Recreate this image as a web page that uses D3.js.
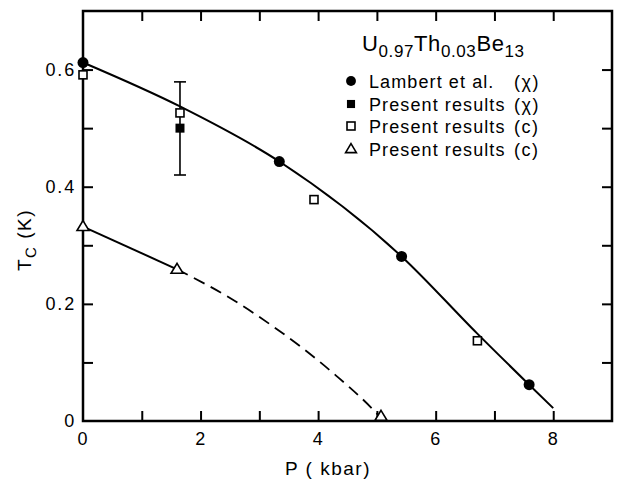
<!DOCTYPE html>
<html><head><meta charset="utf-8">
<script src="https://cdn.jsdelivr.net/npm/d3@7"></script>
<style>
html,body{margin:0;padding:0;background:#fff;}
svg{display:block;font-family:"Liberation Sans",Arial,sans-serif;}
svg text{fill:#000;}
</style>
</head><body>
<svg id="chart" width="617" height="481"></svg>
<script>
// ---- data ----
const lambertP = [0.0, 3.34, 5.42, 7.59];
const lambertTc = [0.612, 0.443, 0.281, 0.062];
const chiP = [1.65];
const chiTc = [0.50];
const chiErrLo = [0.42];
const chiErrHi = [0.579];
const cP = [0.0, 1.65, 3.93, 6.71];
const cTc = [0.591, 0.526, 0.378, 0.137];
const triP = [0.0, 1.6, 5.07];
const triTc = [0.332, 0.259, 0.008];
const fitP = [0.0, 1.65, 3.34, 5.42, 6.7, 7.59, 8.0];
const fitTc = [0.612, 0.537, 0.443, 0.281, 0.150, 0.062, 0.022];
const lowSolidP = [0.0, 1.6];
const lowSolidTc = [0.332, 0.259];
const lowDashP = [1.6, 2.55, 3.24, 3.69, 4.3, 4.93, 5.07];
const lowDashTc = [0.259, 0.207, 0.161, 0.128, 0.078, 0.02, 0.005];
const xTickLabels = [0, 2, 4, 6, 8];
const xTicks = [1, 2, 3, 4, 5, 6, 7, 8];
const yTickLabels = [0, 0.2, 0.4, 0.6];
const yTicks = [0.1, 0.2, 0.3, 0.4, 0.5, 0.6];
const legendLabels = ["Lambert et al.", "Present results", "Present results", "Present results"];
const legendTags = ["(χ)", "(χ)", "(c)", "(c)"];
const legendMarkers = ["circle", "fsquare", "osquare", "triangle"];

const svg = d3.select("#chart");
const L = 83, R = 612, T = 11, B = 421;
const x = d3.scaleLinear().domain([0, 9]).range([L, R]);
const y = d3.scaleLinear().domain([0, 0.7]).range([B, T]);

// ticks (inward)
const tk = 10;
const gB = svg.append("g").attr("transform", `translate(0,${B})`)
  .call(d3.axisBottom(x).tickValues(xTicks).tickSize(-tk).tickFormat(""));
const gT = svg.append("g").attr("transform", `translate(0,${T})`)
  .call(d3.axisTop(x).tickValues(xTicks).tickSize(-tk).tickFormat(""));
const gL = svg.append("g").attr("transform", `translate(${L},0)`)
  .call(d3.axisLeft(y).tickValues(yTicks).tickSize(-tk).tickFormat(""));
const gR = svg.append("g").attr("transform", `translate(${R},0)`)
  .call(d3.axisRight(y).tickValues(yTicks).tickSize(-tk).tickFormat(""));
[gB, gT, gL, gR].forEach(g => {
  g.select(".domain").remove();
  g.selectAll("line").attr("stroke", "#000").attr("stroke-width", 2);
});

// tick labels
const gBl = svg.append("g").attr("transform", `translate(0,${B})`)
  .call(d3.axisBottom(x).tickValues(xTickLabels).tickSize(0).tickPadding(11).tickFormat(d3.format("d")));
const gLl = svg.append("g").attr("transform", `translate(${L},0)`)
  .call(d3.axisLeft(y).tickValues(yTickLabels).tickSize(0).tickPadding(7).tickFormat(d => d === 0 ? "0" : d3.format(".1f")(d)));
[gBl, gLl].forEach(g => {
  g.select(".domain").remove();
  g.selectAll("text").attr("font-size", 18).attr("fill", "#000")
    .attr("font-family", "'Liberation Sans',Arial,sans-serif").style("letter-spacing", "1.8px");
});

// frame
svg.append("rect").attr("x", L).attr("y", T).attr("width", R - L).attr("height", B - T)
  .attr("fill", "none").attr("stroke", "#000").attr("stroke-width", 2.5);

// curves
const line = d3.line().x(d => x(d[0])).y(d => y(d[1]));
svg.append("path").datum(d3.zip(fitP, fitTc))
  .attr("d", line.curve(d3.curveMonotoneX)).attr("fill", "none").attr("stroke", "#000").attr("stroke-width", 2);
svg.append("path").datum(d3.zip(lowSolidP, lowSolidTc))
  .attr("d", d3.line().x(d => x(d[0])).y(d => y(d[1]))).attr("fill", "none").attr("stroke", "#000").attr("stroke-width", 2);
svg.append("path").datum(d3.zip(lowDashP, lowDashTc))
  .attr("d", d3.line().x(d => x(d[0])).y(d => y(d[1])).curve(d3.curveMonotoneX))
  .attr("fill", "none").attr("stroke", "#000").attr("stroke-width", 1.8).attr("stroke-dasharray", "12,7");

// error bar
chiP.forEach((p, i) => {
  const cx = x(p);
  svg.append("line").attr("x1", cx).attr("x2", cx).attr("y1", y(chiErrLo[i])).attr("y2", y(chiErrHi[i]))
    .attr("stroke", "#000").attr("stroke-width", 1.6);
  [chiErrLo[i], chiErrHi[i]].forEach(v => {
    svg.append("line").attr("x1", cx - 6).attr("x2", cx + 6).attr("y1", y(v)).attr("y2", y(v))
      .attr("stroke", "#000").attr("stroke-width", 1.6);
  });
});

// markers
function marker(g, type, cx, cy, s) {
  s = s || 1;
  if (type === "circle") {
    g.append("circle").attr("cx", cx).attr("cy", cy).attr("r", 5.5 * s).attr("fill", "#000");
  } else if (type === "fsquare") {
    const a = 9 * s;
    g.append("rect").attr("x", cx - a / 2).attr("y", cy - a / 2).attr("width", a).attr("height", a).attr("fill", "#000");
  } else if (type === "osquare") {
    const a = 8 * s;
    g.append("rect").attr("x", cx - a / 2).attr("y", cy - a / 2).attr("width", a).attr("height", a)
      .attr("fill", "#fff").attr("stroke", "#000").attr("stroke-width", 1.6);
  } else if (type === "triangle") {
    const h = 10 * s, w = 12 * s;
    g.append("path").attr("d", `M${cx},${cy - h * 0.6}L${cx + w / 2},${cy + h * 0.4}L${cx - w / 2},${cy + h * 0.4}Z`)
      .attr("fill", "#fff").attr("stroke", "#000").attr("stroke-width", 1.6);
  }
}
const gm = svg.append("g");
cP.forEach((p, i) => marker(gm, "osquare", x(p), y(cTc[i])));
chiP.forEach((p, i) => marker(gm, "fsquare", x(p), y(chiTc[i])));
lambertP.forEach((p, i) => marker(gm, "circle", x(p), y(lambertTc[i])));
triP.forEach((p, i) => marker(gm, "triangle", x(p), y(triTc[i])));

// legend
const f = "'Liberation Sans',Arial,sans-serif";
const title = svg.append("text").attr("x", 362).attr("y", 51).attr("font-size", 22).attr("font-family", f).style("letter-spacing", "0.6px");
[["U", 0], ["0.97", 1], ["Th", 0], ["0.03", 1], ["Be", 0], ["13", 1]].forEach(([t, sub]) => {
  title.append("tspan").text(t).attr("font-size", sub ? 17 : 22).attr("dy", sub ? 6 : -6);
});
title.select("tspan").attr("dy", 0);

const rowY = [81, 104, 126, 149];
legendLabels.forEach((lab, i) => {
  marker(svg, legendMarkers[i], 351, rowY[i], legendMarkers[i] === "osquare" ? 1 : 0.9);
  svg.append("text").attr("x", 369).attr("y", rowY[i] + 6.5).attr("font-size", 18).attr("font-family", f)
    .style("letter-spacing", "1.1px").text(lab);
  svg.append("text").attr("x", 514).attr("y", rowY[i] + 6.5).attr("font-size", 18).attr("font-family", f)
    .style("letter-spacing", "1.5px").text(legendTags[i]);
});

// axis titles
const xt = svg.append("text").attr("x", 328).attr("y", 475).attr("text-anchor", "middle")
  .attr("font-size", 19).attr("font-family", f).style("letter-spacing", "1.5px");
xt.append("tspan").text("P");
xt.append("tspan").text(" ( kbar)");
const yt = svg.append("text").attr("transform", "translate(31,240) rotate(-90)").attr("text-anchor", "middle")
  .attr("font-size", 19).attr("font-family", f).attr("fill", "#000")
  .style("letter-spacing", "1.5px").style("opacity", 0.999).style("text-rendering", "geometricPrecision");
yt.append("tspan").text("T");
yt.append("tspan").text("C").attr("font-size", 15).attr("dy", 5);
yt.append("tspan").text(" (K)").attr("dy", -5);
</script>
</body></html>
